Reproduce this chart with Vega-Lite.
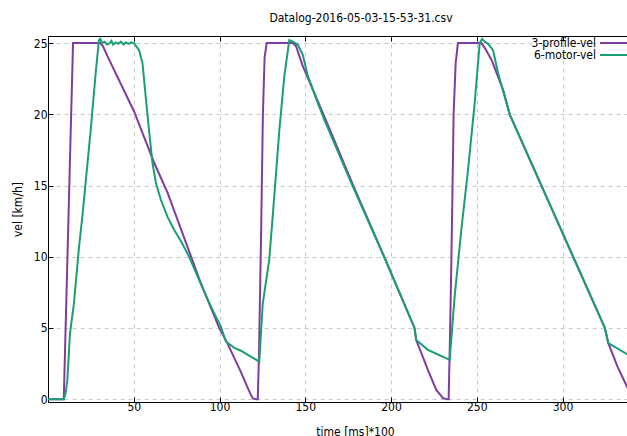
{
  "$schema": "https://vega.github.io/schema/vega-lite/v6.json",
  "autosize": "none",
  "padding": {"left": 48, "top": 36, "right": 0, "bottom": 40},
  "width": 626,
  "height": 366,
  "background": "white",
  "config": {
    "font": "DejaVu Sans Condensed",
    "view": {"stroke": "black", "strokeWidth": 1},
    "axis": {
      "labelFont": "DejaVu Sans Condensed",
      "labelFontSize": 12,
      "labelColor": "black",
      "titleFont": "DejaVu Sans Condensed",
      "titleFontSize": 12,
      "titleFontWeight": "normal",
      "titleColor": "black",
      "domainColor": "black",
      "tickColor": "black",
      "gridColor": "#c8c8c8",
      "gridDash": [4, 4],
      "gridWidth": 1
    }
  },
  "title": {
    "text": "Datalog-2016-05-03-15-53-31.csv",
    "font": "DejaVu Sans Condensed",
    "fontSize": 12,
    "fontWeight": "normal",
    "color": "black",
    "frame": "group",
    "anchor": "middle",
    "baseline": "alphabetic",
    "offset": 2
  },
  "data": {
    "values": [
      {"t": 0, "vel": 0, "series": "3-profile-vel"},
      {"t": 9.2, "vel": 0, "series": "3-profile-vel"},
      {"t": 13.5, "vel": 20, "series": "3-profile-vel"},
      {"t": 14.6, "vel": 25, "series": "3-profile-vel"},
      {"t": 30.5, "vel": 25, "series": "3-profile-vel"},
      {"t": 32, "vel": 24.8, "series": "3-profile-vel"},
      {"t": 34.6, "vel": 24.1, "series": "3-profile-vel"},
      {"t": 50.2, "vel": 20.2, "series": "3-profile-vel"},
      {"t": 61.9, "vel": 16.6, "series": "3-profile-vel"},
      {"t": 69.7, "vel": 14.5, "series": "3-profile-vel"},
      {"t": 89.1, "vel": 8.15, "series": "3-profile-vel"},
      {"t": 99.8, "vel": 5.0, "series": "3-profile-vel"},
      {"t": 104.7, "vel": 3.9, "series": "3-profile-vel"},
      {"t": 108.6, "vel": 2.9, "series": "3-profile-vel"},
      {"t": 112.5, "vel": 1.9, "series": "3-profile-vel"},
      {"t": 115.5, "vel": 1.05, "series": "3-profile-vel"},
      {"t": 118.3, "vel": 0.3, "series": "3-profile-vel"},
      {"t": 119.5, "vel": 0.05, "series": "3-profile-vel"},
      {"t": 121.3, "vel": 0, "series": "3-profile-vel"},
      {"t": 122.3, "vel": 0, "series": "3-profile-vel"},
      {"t": 123, "vel": 3, "series": "3-profile-vel"},
      {"t": 124.3, "vel": 12, "series": "3-profile-vel"},
      {"t": 125.3, "vel": 20, "series": "3-profile-vel"},
      {"t": 126.3, "vel": 24, "series": "3-profile-vel"},
      {"t": 127.5, "vel": 25, "series": "3-profile-vel"},
      {"t": 142.7, "vel": 25, "series": "3-profile-vel"},
      {"t": 144.6, "vel": 24.8, "series": "3-profile-vel"},
      {"t": 148.5, "vel": 23.4, "series": "3-profile-vel"},
      {"t": 160.6, "vel": 20, "series": "3-profile-vel"},
      {"t": 178, "vel": 15, "series": "3-profile-vel"},
      {"t": 196, "vel": 10, "series": "3-profile-vel"},
      {"t": 213.7, "vel": 5, "series": "3-profile-vel"},
      {"t": 214.7, "vel": 4.15, "series": "3-profile-vel"},
      {"t": 221.5, "vel": 2.06, "series": "3-profile-vel"},
      {"t": 226.4, "vel": 0.65, "series": "3-profile-vel"},
      {"t": 230.3, "vel": 0.07, "series": "3-profile-vel"},
      {"t": 232.8, "vel": 0, "series": "3-profile-vel"},
      {"t": 233.6, "vel": 0, "series": "3-profile-vel"},
      {"t": 234.5, "vel": 5, "series": "3-profile-vel"},
      {"t": 235.5, "vel": 12, "series": "3-profile-vel"},
      {"t": 236.5, "vel": 20, "series": "3-profile-vel"},
      {"t": 237.7, "vel": 23.6, "series": "3-profile-vel"},
      {"t": 239, "vel": 25, "series": "3-profile-vel"},
      {"t": 252.7, "vel": 25, "series": "3-profile-vel"},
      {"t": 255, "vel": 24.6, "series": "3-profile-vel"},
      {"t": 258.7, "vel": 23.8, "series": "3-profile-vel"},
      {"t": 265.4, "vel": 21.7, "series": "3-profile-vel"},
      {"t": 269.2, "vel": 20, "series": "3-profile-vel"},
      {"t": 287.7, "vel": 15, "series": "3-profile-vel"},
      {"t": 306.2, "vel": 10, "series": "3-profile-vel"},
      {"t": 324.7, "vel": 5, "series": "3-profile-vel"},
      {"t": 326.7, "vel": 3.93, "series": "3-profile-vel"},
      {"t": 332, "vel": 2.3, "series": "3-profile-vel"},
      {"t": 338.5, "vel": 0.65, "series": "3-profile-vel"},
      {"t": 341, "vel": 0, "series": "3-profile-vel"},

      {"t": 0, "vel": 0, "series": "6-motor-vel"},
      {"t": 9.3, "vel": 0, "series": "6-motor-vel"},
      {"t": 10.3, "vel": 0.44, "series": "6-motor-vel"},
      {"t": 11.3, "vel": 1.35, "series": "6-motor-vel"},
      {"t": 12.8, "vel": 4.6, "series": "6-motor-vel"},
      {"t": 15.1, "vel": 6.7, "series": "6-motor-vel"},
      {"t": 18.1, "vel": 10.7, "series": "6-motor-vel"},
      {"t": 20, "vel": 12.8, "series": "6-motor-vel"},
      {"t": 24.9, "vel": 18.9, "series": "6-motor-vel"},
      {"t": 27.8, "vel": 22.9, "series": "6-motor-vel"},
      {"t": 29.7, "vel": 25.2, "series": "6-motor-vel"},
      {"t": 30.5, "vel": 25.3, "series": "6-motor-vel"},
      {"t": 31.5, "vel": 25.0, "series": "6-motor-vel"},
      {"t": 33, "vel": 25.1, "series": "6-motor-vel"},
      {"t": 34.5, "vel": 24.9, "series": "6-motor-vel"},
      {"t": 36, "vel": 25.0, "series": "6-motor-vel"},
      {"t": 37, "vel": 25.15, "series": "6-motor-vel"},
      {"t": 38, "vel": 24.9, "series": "6-motor-vel"},
      {"t": 39.5, "vel": 25.05, "series": "6-motor-vel"},
      {"t": 41, "vel": 24.95, "series": "6-motor-vel"},
      {"t": 42.5, "vel": 25.1, "series": "6-motor-vel"},
      {"t": 44, "vel": 24.9, "series": "6-motor-vel"},
      {"t": 45.5, "vel": 25.05, "series": "6-motor-vel"},
      {"t": 47, "vel": 24.95, "series": "6-motor-vel"},
      {"t": 48.5, "vel": 25.05, "series": "6-motor-vel"},
      {"t": 50.2, "vel": 25.0, "series": "6-motor-vel"},
      {"t": 53.1, "vel": 24.5, "series": "6-motor-vel"},
      {"t": 55.1, "vel": 23.6, "series": "6-motor-vel"},
      {"t": 57, "vel": 21.2, "series": "6-motor-vel"},
      {"t": 58.9, "vel": 18.9, "series": "6-motor-vel"},
      {"t": 60.9, "vel": 16.6, "series": "6-motor-vel"},
      {"t": 62.9, "vel": 15.2, "series": "6-motor-vel"},
      {"t": 65.8, "vel": 14.0, "series": "6-motor-vel"},
      {"t": 69.7, "vel": 12.8, "series": "6-motor-vel"},
      {"t": 73.5, "vel": 11.9, "series": "6-motor-vel"},
      {"t": 77.5, "vel": 11.1, "series": "6-motor-vel"},
      {"t": 82.3, "vel": 10.0, "series": "6-motor-vel"},
      {"t": 89.1, "vel": 8.1, "series": "6-motor-vel"},
      {"t": 95, "vel": 6.5, "series": "6-motor-vel"},
      {"t": 100.8, "vel": 5.1, "series": "6-motor-vel"},
      {"t": 103.7, "vel": 4.05, "series": "6-motor-vel"},
      {"t": 108.6, "vel": 3.6, "series": "6-motor-vel"},
      {"t": 112.5, "vel": 3.4, "series": "6-motor-vel"},
      {"t": 118, "vel": 3.0, "series": "6-motor-vel"},
      {"t": 123.2, "vel": 2.64, "series": "6-motor-vel"},
      {"t": 125.2, "vel": 6.7, "series": "6-motor-vel"},
      {"t": 129, "vel": 9.8, "series": "6-motor-vel"},
      {"t": 131, "vel": 12.8, "series": "6-motor-vel"},
      {"t": 134.9, "vel": 18.9, "series": "6-motor-vel"},
      {"t": 137.8, "vel": 22.7, "series": "6-motor-vel"},
      {"t": 140.7, "vel": 25.2, "series": "6-motor-vel"},
      {"t": 142.7, "vel": 25.1, "series": "6-motor-vel"},
      {"t": 145.6, "vel": 24.9, "series": "6-motor-vel"},
      {"t": 148.5, "vel": 24.2, "series": "6-motor-vel"},
      {"t": 151.5, "vel": 22.7, "series": "6-motor-vel"},
      {"t": 157.3, "vel": 20.8, "series": "6-motor-vel"},
      {"t": 161.2, "vel": 19.6, "series": "6-motor-vel"},
      {"t": 177.5, "vel": 15, "series": "6-motor-vel"},
      {"t": 196, "vel": 10, "series": "6-motor-vel"},
      {"t": 213.7, "vel": 5, "series": "6-motor-vel"},
      {"t": 214.7, "vel": 4.15, "series": "6-motor-vel"},
      {"t": 221.5, "vel": 3.46, "series": "6-motor-vel"},
      {"t": 228, "vel": 3.1, "series": "6-motor-vel"},
      {"t": 234.2, "vel": 2.76, "series": "6-motor-vel"},
      {"t": 237.1, "vel": 7.2, "series": "6-motor-vel"},
      {"t": 241, "vel": 11.9, "series": "6-motor-vel"},
      {"t": 244.9, "vel": 16.1, "series": "6-motor-vel"},
      {"t": 248.8, "vel": 20.8, "series": "6-motor-vel"},
      {"t": 251.7, "vel": 25.0, "series": "6-motor-vel"},
      {"t": 253.1, "vel": 25.3, "series": "6-motor-vel"},
      {"t": 254.6, "vel": 25.1, "series": "6-motor-vel"},
      {"t": 256.6, "vel": 24.95, "series": "6-motor-vel"},
      {"t": 259.5, "vel": 24.5, "series": "6-motor-vel"},
      {"t": 262.4, "vel": 22.9, "series": "6-motor-vel"},
      {"t": 266.3, "vel": 21.25, "series": "6-motor-vel"},
      {"t": 269.2, "vel": 20, "series": "6-motor-vel"},
      {"t": 287.7, "vel": 15, "series": "6-motor-vel"},
      {"t": 306.2, "vel": 10, "series": "6-motor-vel"},
      {"t": 324.7, "vel": 5, "series": "6-motor-vel"},
      {"t": 326.7, "vel": 3.93, "series": "6-motor-vel"},
      {"t": 338.5, "vel": 3.1, "series": "6-motor-vel"},
      {"t": 341, "vel": 3.0, "series": "6-motor-vel"}
    ]
  },
  "layer": [
    {
      "mark": {"type": "line", "strokeWidth": 2, "clip": true},
      "encoding": {
        "x": {
          "field": "t",
          "type": "quantitative",
          "scale": {"domain": [0, 365], "nice": false, "zero": false},
          "axis": {
            "title": "time [ms]*100",
            "values": [50, 100, 150, 200, 250, 300],
            "grid": true,
            "tickSize": -5,
            "labelPadding": 4,
            "labelFlush": false,
            "titleX": 307,
            "titleY": 29,
            "titleBaseline": "middle"
          }
        },
        "y": {
          "field": "vel",
          "type": "quantitative",
          "scale": {"domain": [-0.2, 25.5], "nice": false, "zero": false},
          "axis": {
            "title": "vel [km/h]",
            "values": [0, 5, 10, 15, 20, 25],
            "grid": true,
            "tickSize": -5,
            "labelPadding": 6,
            "labelFlush": false,
            "titleX": -31,
            "titleY": 173,
            "titleBaseline": "middle",
            "titleAngle": -90
          }
        },
        "color": {
          "field": "series",
          "type": "nominal",
          "scale": {"domain": ["3-profile-vel", "6-motor-vel"], "range": ["#7e3d9e", "#1a9e74"]},
          "legend": {
            "title": null,
            "orient": "none",
            "legendX": 561,
            "legendY": 1,
            "symbolType": "M-3,0H3",
            "symbolSize": 100,
            "symbolStrokeWidth": 2,
            "labelAlign": "right",
            "labelOffset": -25,
            "labelFont": "DejaVu Sans Condensed",
            "labelFontSize": 12,
            "labelColor": "black",
            "rowPadding": 0
          }
        }
      }
    },
    {
      "mark": {"type": "line", "strokeOpacity": 0, "clip": true},
      "encoding": {
        "detail": {"field": "series"},
        "x": {
          "field": "t",
          "type": "quantitative",
          "axis": {
            "orient": "top",
            "title": null,
            "labels": false,
            "grid": false,
            "domain": false,
            "values": [50, 100, 150, 200, 250, 300],
            "tickSize": -5
          }
        },
        "y": {
          "field": "vel",
          "type": "quantitative",
          "axis": {
            "orient": "right",
            "title": null,
            "labels": false,
            "grid": false,
            "domain": false,
            "values": [0, 5, 10, 15, 20, 25],
            "tickSize": -5
          }
        }
      }
    }
  ],
  "resolve": {"axis": {"x": "independent", "y": "independent"}}
}
